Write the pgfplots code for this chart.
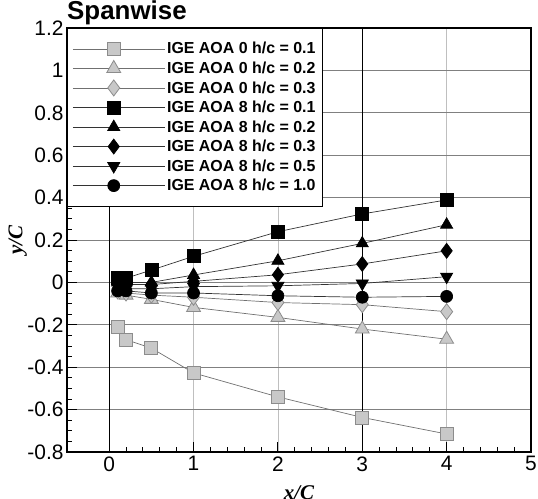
\documentclass[border=0pt]{standalone}
\usepackage{pgfplots}
\pgfplotsset{compat=1.18}
\usepackage{fontspec}
\setmainfont{Liberation Sans}
\newfontfamily\serifit{Liberation Serif}
\definecolor{lgrey}{HTML}{C8C8C8}
\definecolor{egrey}{HTML}{8C8C8C}
\definecolor{lline}{HTML}{707070}
\newcommand\legfont{\fontsize{16}{18}\selectfont\bfseries}
\begin{document}
\begin{tikzpicture}
\begin{axis}[
  scale only axis, width=464bp, height=424bp,
  xmin=-0.5, xmax=5, ymin=-0.8, ymax=1.2,
  xtick={0,1,2,3,4,5}, ytick={-0.8,-0.6,-0.4,-0.2,0,0.2,0.4,0.6,0.8,1,1.2},
  minor x tick num=4, minor y tick num=3,
  tick pos=left, tick align=inside,
  major tick length=10bp, minor tick length=5bp,
  every tick/.style={black, line width=1bp},
  axis line style={line width=1.6bp},
  grid=major,
  x grid style={black!25, line width=0.6bp},
  y grid style={black!50, line width=0.8bp},
  /pgf/number format/assume math mode=true,
  tick label style={font=\fontsize{21}{23}\selectfont},
  xticklabel style={yshift=-1bp},
  ylabel={\serifit\bfseries\itshape y/C},
  ylabel style={font=\fontsize{21}{23}\selectfont, at={(rel axis cs:-0.106,0.5)}, anchor=center},
  xlabel={\serifit\bfseries\itshape x/C},
  xlabel style={font=\fontsize{21}{23}\selectfont, at={(rel axis cs:0.5,0)}, anchor=north, yshift=-30bp},
  legend style={at={(0,1)}, anchor=north west, draw=black, line width=0.8bp,
    font=\legfont, nodes={font=\legfont}, row sep=2.5bp,
    inner xsep=5bp, inner ysep=12bp, fill=white},
  legend cell align=left,
  legend image code/.code={\path (0bp,0bp) -- (92bp,0bp);\draw[mark repeat=2,mark phase=2,#1] plot coordinates {(4bp,0bp) (41bp,0bp) (78bp,0bp)};},
  every axis plot/.append style={line width=0.7bp},
]
\coordinate (SW) at (rel axis cs:0,0);
\coordinate (NE) at (rel axis cs:1,1);
\draw[black, line width=0.9bp] (axis cs:0,-0.8) -- (axis cs:0,1.2);
\draw[black, line width=0.9bp] (axis cs:3,-0.8) -- (axis cs:3,1.2);
\addplot[lline, mark=square*, mark size=6.5bp, mark options={fill=lgrey, draw=egrey, line width=0.8bp}] coordinates {
(0.1,-0.21) (0.2,-0.27) (0.5,-0.31) (1,-0.427) (2,-0.54) (3,-0.637) (4,-0.715)};
\addlegendentry{\legfont IGE AOA 0 h/c = 0.1}
\addplot[lline, mark=triangle*, mark size=8bp, mark options={fill=lgrey, draw=egrey, line width=0.8bp}] coordinates {
(0.1,-0.05) (0.2,-0.06) (0.5,-0.08) (1,-0.118) (2,-0.165) (3,-0.22) (4,-0.268)};
\addlegendentry{\legfont IGE AOA 0 h/c = 0.2}
\addplot[lline, mark=diamond*, mark size=8bp, mark options={fill=lgrey, draw=egrey, line width=0.8bp}] coordinates {
(0.1,-0.04) (0.2,-0.05) (0.5,-0.06) (1,-0.07) (2,-0.095) (3,-0.105) (4,-0.138)};
\addlegendentry{\legfont IGE AOA 0 h/c = 0.3}
\addplot[black!80, mark=square*, mark size=6.5bp, mark options={fill=black, draw=black}] coordinates {
(0.1,0.02) (0.2,0.02) (0.5,0.058) (1,0.123) (2,0.239) (3,0.323) (4,0.389)};
\addlegendentry{\legfont IGE AOA 8 h/c = 0.1}
\addplot[black!80, mark=triangle*, mark size=7bp, mark options={fill=black, draw=black}] coordinates {
(0.1,0.0) (0.2,0.0) (0.5,0.0) (1,0.035) (2,0.102) (3,0.184) (4,0.272)};
\addlegendentry{\legfont IGE AOA 8 h/c = 0.2}
\addplot[black!80, mark=diamond*, mark size=7.5bp, mark options={fill=black, draw=black}] coordinates {
(0.1,-0.01) (0.2,-0.01) (0.5,-0.01) (1,0.005) (2,0.036) (3,0.087) (4,0.149)};
\addlegendentry{\legfont IGE AOA 8 h/c = 0.3}
\addplot[black!80, mark=triangle*, mark size=7bp, mark options={fill=black, draw=black, rotate=180}] coordinates {
(0.1,-0.02) (0.2,-0.03) (0.5,-0.03) (1,-0.02) (2,-0.016) (3,-0.005) (4,0.027)};
\addlegendentry{\legfont IGE AOA 8 h/c = 0.5}
\addplot[black!80, mark=*, mark size=6bp, mark options={fill=black, draw=black}] coordinates {
(0.1,-0.04) (0.2,-0.04) (0.5,-0.05) (1,-0.05) (2,-0.063) (3,-0.07) (4,-0.066)};
\addlegendentry{\legfont IGE AOA 8 h/c = 1.0}
\end{axis}
\node[anchor=base west, inner sep=0pt, font=\fontsize{26}{28}\selectfont\bfseries] at ([yshift=8bp]SW |- NE) {Spanwise};
\pgfresetboundingbox
\path ([shift={(-67bp,-46bp)}]SW) rectangle ([shift={(7bp,28bp)}]NE);
\end{tikzpicture}
\end{document}
